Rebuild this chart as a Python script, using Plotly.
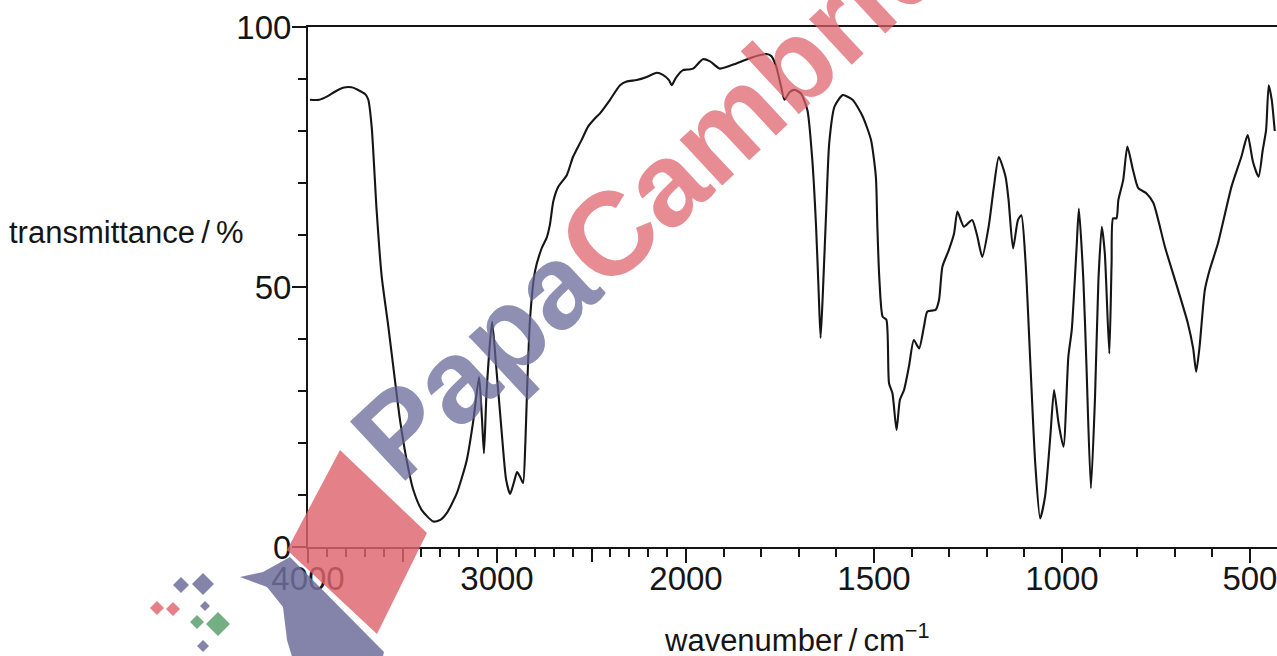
import numpy as np
import plotly.graph_objects as go

# ---------------- data ----------------
wavenumber = [3990, 3940, 3901, 3860, 3815, 3770, 3725, 3695, 3681, 3663, 3637, 3610,
              3575, 3540, 3513, 3478, 3443, 3398, 3337, 3300, 3266, 3213, 3160, 3125,
              3095, 3080, 3069, 3055, 3026, 3005, 2975, 2952, 2931, 2910, 2894, 2878,
              2862, 2850, 2841, 2825, 2799, 2763, 2737, 2720, 2702, 2676, 2631, 2598,
              2552, 2519, 2480, 2455, 2402, 2349, 2314, 2261, 2208, 2155, 2122, 2090,
              2076, 2060, 2050, 2016, 2000,
              1981, 1955, 1936, 1910, 1866, 1823, 1786, 1773, 1760, 1747, 1738, 1724,
              1711, 1694, 1677, 1664, 1654, 1647, 1642, 1636, 1627, 1619, 1605, 1583,
              1557, 1530, 1508, 1495, 1491, 1486, 1477, 1467, 1460, 1451, 1440, 1431,
              1420, 1407, 1394, 1380, 1367, 1358, 1336, 1327, 1318, 1301, 1287, 1278,
              1261, 1239, 1225, 1212, 1195, 1181, 1168, 1150, 1142, 1130, 1117, 1108,
              1097, 1084, 1071, 1058, 1045, 1031, 1021, 1009, 996, 983, 974, 961, 955,
              943, 935, 923, 912, 903, 894, 886, 874, 868, 864, 855, 850, 837, 826, 811,
              797, 775, 757, 726, 691, 665, 651, 643, 634, 620, 607, 585, 549, 523, 506,
              492, 477, 466, 457, 450, 442, 434]
transmittance = [86.0, 86.0, 86.6, 87.5, 88.3, 88.4, 87.7, 87.0, 86.0, 80.8, 64.8, 52.0,
                 42.4, 32.1, 24.4, 16.7, 11.0, 7.1, 4.9, 5.2, 6.5, 10.3, 16.7, 24.4,
                 32.7, 25.0, 18.0, 30.0, 43.3, 35.0, 22.0, 13.0, 10.2, 12.5, 14.4, 13.5,
                 12.3, 20.0, 30.0, 44.0, 53.0, 57.5, 59.5, 62.0, 66.5, 69.3, 71.5, 75.0,
                 78.3, 80.8, 82.5, 83.4, 86.0, 88.8, 89.5, 89.8, 90.4, 91.2, 90.8, 89.8,
                 88.8, 89.8, 90.4, 91.7, 91.8,
                 92.0, 93.8, 93.4, 92.0, 93.0, 94.2, 94.8, 94.4, 92.4, 88.5, 86.0, 87.5,
                 87.9, 87.2, 84.0, 74.4, 61.6, 48.8, 40.2, 48.8, 64.8, 77.7, 84.7, 86.9,
                 86.0, 82.8, 78.3, 71.2, 61.6, 52.0, 44.3, 43.7, 31.5, 29.6, 22.5, 28.3,
                 30.2, 34.7, 39.8, 38.2, 42.4, 45.3, 45.6, 47.5, 53.9, 57.1, 60.3, 64.5,
                 61.6, 62.9, 59.7, 55.8, 61.6, 69.3, 75.0, 71.2, 66.7, 57.4, 62.9, 63.8,
                 55.0, 35.3, 16.0, 5.5, 9.7, 21.2, 30.2, 23.8, 19.3, 36.6, 41.7, 57.7, 65.1,
                 51.3, 35.3, 11.3, 28.9, 51.3, 61.6, 56.5, 37.2, 54.5, 63.2, 63.2, 66.7, 70.6, 77.0, 72.5,
                 69.0, 68.0, 66.2, 57.7, 49.4, 43.0, 38.2, 33.7, 38.5, 49.4, 53.3, 58.4, 69.3, 75.0, 79.2,
                 74.1, 71.2, 76.3, 80.2, 88.8, 86.0, 80.0]

upper_ticks = [4000, 3000]
upper_labels = ["4000", "3000"]
upper_unlabelled = [3500, 2500]
lower_ticks = [2000, 1500, 1000, 500]
lower_labels = ["2000", "1500", "1000", "500"]
y_ticks = [0, 50, 100]
y_labels = ["0", "50", "100"]

# ---------------- figure ----------------
W, H = 1277, 656
L, R, T, B = 308, 0, 27, 109
BREAK = 2000
split = (686 - L) / (W - L - R)

w = np.array(wavenumber, dtype=float)
t = np.array(transmittance, dtype=float)
up = w >= BREAK
lo = w <= BREAK

FONT = "Liberation Sans, Arial, sans-serif"
INK = "#151515"
FS_TICK = 33
FS_TITLE = 31

fig = go.Figure()
line = dict(color=INK, width=2.1, shape="spline", smoothing=0.6)
fig.add_trace(go.Scatter(x=w[up], y=t[up], mode="lines", line=line, xaxis="x", yaxis="y",
                         showlegend=False, hoverinfo="skip"))
fig.add_trace(go.Scatter(x=w[lo], y=t[lo], mode="lines", line=line, xaxis="x2", yaxis="y",
                         showlegend=False, hoverinfo="skip"))
fig.add_trace(go.Scatter(x=[None], y=[None], mode="lines", xaxis="x3", yaxis="y",
                         showlegend=False, hoverinfo="skip"))

axis_common = dict(showgrid=False, zeroline=False, showline=True, linecolor=INK, linewidth=2,
                   ticks="outside", ticklen=14, tickwidth=2, tickcolor=INK, automargin=False,
                   ticklabeloverflow="allow",
                   tickfont=dict(family=FONT, size=FS_TICK, color=INK))
minor_common = dict(ticks="outside", ticklen=8, tickwidth=2, tickcolor=INK)

fig.update_layout(
    template="none",
    width=W, height=H,
    margin=dict(l=L, r=R, t=T, b=B, autoexpand=False),
    paper_bgcolor="white", plot_bgcolor="white",
    xaxis=dict(domain=[0, split], range=[4000, BREAK], anchor="y", mirror=True,
               tickmode="array", tickvals=upper_ticks, ticktext=upper_labels,
               ticklabelstandoff=-13,
               minor=dict(tickmode="array",
                          tickvals=[v for v in range(2100, 4000, 100) if v % 500], **minor_common),
               **axis_common),
    xaxis3=dict(domain=[0, split], range=[4000, BREAK], anchor="y", overlaying="x",
                showgrid=False, zeroline=False, showline=False, showticklabels=False,
                tickmode="array", tickvals=upper_unlabelled,
                ticks="outside", ticklen=14, tickwidth=2, tickcolor=INK),
    xaxis2=dict(domain=[split, 1], range=[BREAK, 428], anchor="y", mirror=True,
                tickmode="array", tickvals=lower_ticks, ticktext=lower_labels,
                ticklabelstandoff=-13,
                minor=dict(tickmode="array",
                           tickvals=[v for v in range(500, 2000, 100) if v % 500], **minor_common),
                **axis_common),
    yaxis=dict(range=[0, 100], anchor="x",
               tickmode="array", tickvals=y_ticks, ticktext=y_labels,
               ticklabelstandoff=-6,
               minor=dict(tickmode="array", tickvals=[10, 20, 30, 40, 60, 70, 80, 90], **minor_common),
               **axis_common),
)

pw, ph = W - L - R, H - T - B


def pp(x, y):
    return (x - L) / pw, (H - B - y) / ph


# ---------------- watermark ----------------
def poly(points, color):
    path = "M " + " L ".join(f"{pp(x, y)[0]:.5f},{pp(x, y)[1]:.5f}" for x, y in points) + " Z"
    fig.add_shape(type="path", path=path, xref="paper", yref="paper",
                  fillcolor=color, line=dict(width=0), layer="above")


RED = "rgba(222,100,108,0.82)"
BLUE = "rgba(110,110,155,0.85)"
GREEN = "rgba(90,160,110,0.85)"
poly([(340, 450), (427, 533), (420, 547), (377, 634), (287, 550)], RED)
poly([(240, 577), (263, 572), (290, 557), (384, 652), (382, 660), (293, 660),
      (287, 640), (283, 607), (267, 587)], BLUE)
for (cx, cy, r, col) in [(157, 608, 7, RED), (173, 609, 7, RED),
                         (181, 585, 8, BLUE), (203, 584, 11, BLUE),
                         (205, 606, 5, BLUE), (203, 646, 6, BLUE),
                         (197, 622, 7, GREEN), (218, 624, 12, GREEN)]:
    poly([(cx, cy - r), (cx + r, cy), (cx, cy + r), (cx - r, cy)], col)

mx, my = pp(700, 150)
fig.add_annotation(
    text="<span style='color:rgba(100,100,150,0.72)'>Papa</span>"
         "<span style='color:rgba(222,95,105,0.72)'>Cambridge</span>",
    x=mx, y=my, xref="paper", yref="paper", xanchor="center", yanchor="middle",
    showarrow=False, textangle=-43,
    font=dict(family="Liberation Sans, Arial, sans-serif", size=118, weight="bold"))

# axis titles
tx, ty = pp(246, 232)
fig.add_annotation(text="transmittance\u2009/\u2009%", x=tx, y=ty, xref="paper", yref="paper",
                   xanchor="right", yanchor="middle", showarrow=False,
                   font=dict(family=FONT, size=FS_TITLE, color=INK))
tx, ty = pp(797, 638)
fig.add_annotation(text="wavenumber\u2009/\u2009cm<sup>\u22121</sup>", x=tx, y=ty,
                   xref="paper", yref="paper", xanchor="center", yanchor="middle",
                   showarrow=False, font=dict(family=FONT, size=FS_TITLE, color=INK))

fig.write_html(
    "out.html",
    config={"displayModeBar": False, "staticPlot": True},
    post_script="document.body.style.margin='0';"
                "document.documentElement.style.overflow='hidden';"
                "document.body.style.overflow='hidden';",
)
